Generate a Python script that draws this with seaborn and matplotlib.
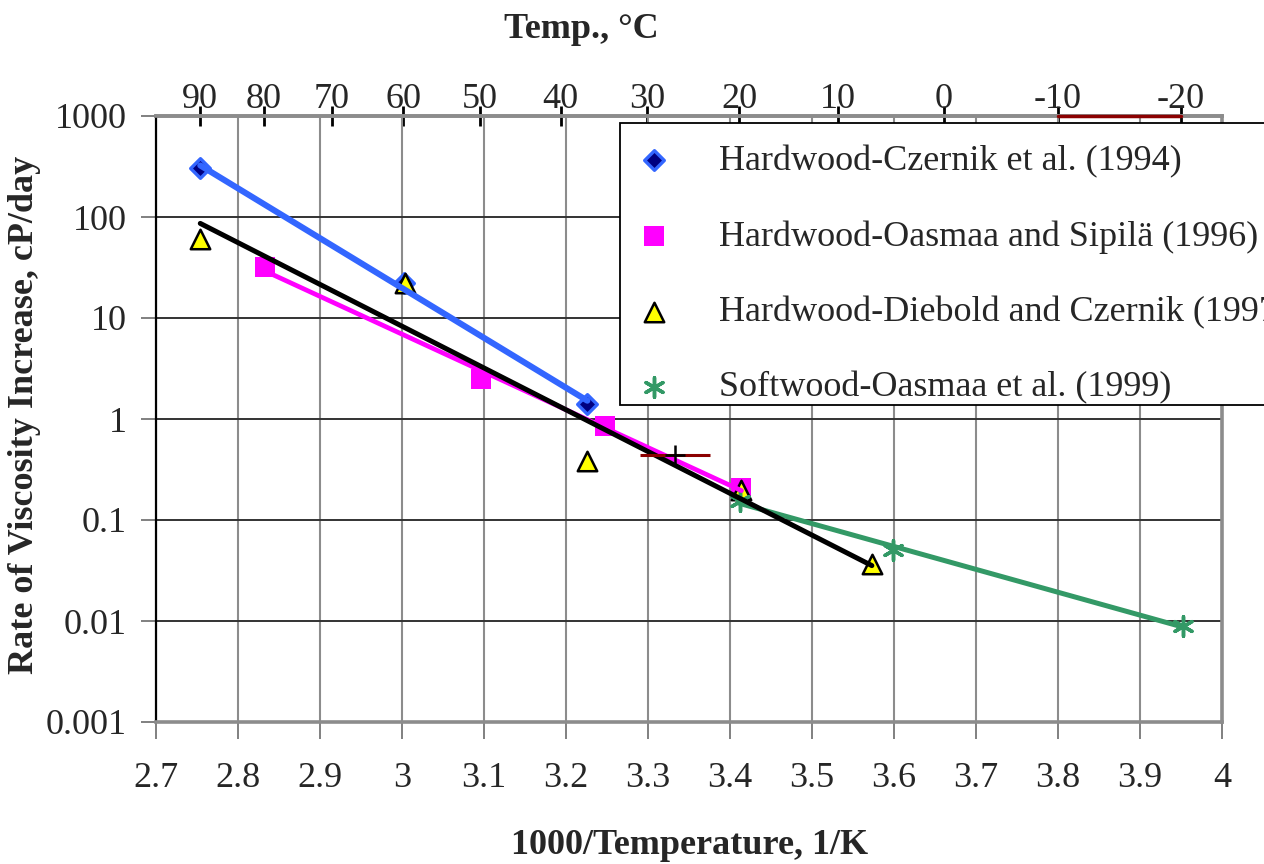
import numpy as np
import pandas as pd
import matplotlib
matplotlib.use("Agg")
import matplotlib.pyplot as plt
from matplotlib.ticker import NullLocator, FixedLocator
from matplotlib.patches import Rectangle
import seaborn as sns

# ---------------- data ----------------
czernik_x = [2.754, 3.002, 3.226]
czernik_y = [305, 22, 1.42]
oasmaa96_x = [2.833, 3.096, 3.248, 3.414]
oasmaa96_y = [32, 2.5, 0.85, 0.207]
diebold_x = [2.754, 3.004, 3.226, 3.414, 3.573]
diebold_y = [60, 22.4, 0.38, 0.20, 0.037]
oasmaa99_x = [3.412, 3.599, 3.953]
oasmaa99_y = [0.153, 0.051, 0.0089]
extra_x = [3.333]
extra_y = [0.44]
extra_xerr = [0.043]
top_bar_x = [3.80, 3.95]
top_bar_y = [1000, 1000]

series_labels = [
    "Hardwood-Czernik et al. (1994)",
    "Hardwood-Oasmaa and Sipilä (1996)",
    "Hardwood-Diebold and Czernik (1997)",
    "Softwood-Oasmaa et al. (1999)",
]
temp_ticks = [90, 80, 70, 60, 50, 40, 30, 20, 10, 0, -10, -20]
temp_tick_labels = [str(t) for t in temp_ticks]
x_ticks = [2.7, 2.8, 2.9, 3.0, 3.1, 3.2, 3.3, 3.4, 3.5, 3.6, 3.7, 3.8, 3.9, 4.0]
x_tick_labels = ["2.7", "2.8", "2.9", "3", "3.1", "3.2", "3.3", "3.4", "3.5",
                 "3.6", "3.7", "3.8", "3.9", "4"]
y_ticks = [0.001, 0.01, 0.1, 1, 10, 100, 1000]
y_tick_labels = ["0.001", "0.01", "0.1", "1", "10", "100", "1000"]

# ---------------- style ----------------
sns.set_style("white")
plt.rcParams["font.family"] = ["Liberation Serif", "DejaVu Serif"]
FS = 26

W, H = 1264, 864
fig = plt.figure(figsize=(W / 100, H / 100), dpi=100)
ax = fig.add_axes([156 / W, 1 - 722 / H, 1066 / W, 606 / H])
ax.set_yscale("log")


def fit_frame(xs, ys):
    k, b = np.polyfit(xs, np.log10(ys), 1)
    xx = np.array([min(xs), max(xs)])
    return pd.DataFrame({"x": xx, "y": 10 ** (k * xx + b)})


# markers
sns.scatterplot(x=czernik_x, y=czernik_y, marker="D", s=10 ** 2, color="#000080",
                edgecolor="#3366ff", linewidth=2.4, ax=ax, zorder=3, label=series_labels[0])
sns.scatterplot(x=oasmaa96_x, y=oasmaa96_y, marker="s", s=15 ** 2, color="#ff00ff",
                edgecolor="#ff00ff", linewidth=0, ax=ax, zorder=3, label=series_labels[1])
sns.scatterplot(x=diebold_x, y=diebold_y, marker="^", s=14 ** 2, color="#ffff00",
                edgecolor="black", linewidth=1.8, ax=ax, zorder=3, label=series_labels[2])
sns.scatterplot(x=oasmaa99_x, y=oasmaa99_y, marker=(6, 2, 0), s=14 ** 2, color="#339966",
                edgecolor="#339966", linewidth=2.5, ax=ax, zorder=3, label=series_labels[3])

# trend lines
sns.lineplot(data=fit_frame(czernik_x, czernik_y), x="x", y="y", color="#3366ff",
             lw=4.4, ax=ax, zorder=4, legend=False)
sns.lineplot(data=fit_frame(oasmaa96_x, oasmaa96_y), x="x", y="y", color="#ff00ff",
             lw=3.4, ax=ax, zorder=4, legend=False)
sns.lineplot(data=fit_frame(diebold_x, diebold_y), x="x", y="y", color="black",
             lw=3.6, ax=ax, zorder=5, legend=False)
sns.lineplot(data=fit_frame(oasmaa99_x, oasmaa99_y), x="x", y="y", color="#339966",
             lw=3.6, ax=ax, zorder=4, legend=False)

# extra point with horizontal bar
ax.errorbar(extra_x, extra_y, xerr=extra_xerr, fmt="none", ecolor="#8b0000",
            elinewidth=2.2, capsize=0, zorder=6)
ax.plot(extra_x, extra_y, marker="+", ms=14, mew=1.8, color="black", ls="none", zorder=7)
ax.plot(top_bar_x, top_bar_y, color="#8b0000", lw=2.5, zorder=8, clip_on=False)

# axes
ax.set_xlim(2.7, 4.0)
ax.set_ylim(0.001, 1000)
ax.xaxis.set_major_locator(FixedLocator(x_ticks))
ax.set_xticklabels(x_tick_labels)
ax.yaxis.set_major_locator(FixedLocator(y_ticks))
ax.yaxis.set_minor_locator(NullLocator())
ax.set_yticklabels(y_tick_labels)
ax.tick_params(axis="x", direction="out", length=12, width=1.4, color="#808080",
               labelsize=FS, pad=17, bottom=True)
ax.tick_params(axis="y", direction="out", length=11, width=1.4, color="#808080",
               labelsize=FS, pad=10, left=True)
ax.xaxis.grid(True, color="#8c8c8c", lw=1.5)
ax.yaxis.grid(True, color="#333333", lw=1.4)
ax.set_axisbelow(True)
ax.set_xlabel("")
ax.set_ylabel("")
for side in ["top", "bottom", "right"]:
    ax.spines[side].set_color("#8c8c8c")
    ax.spines[side].set_linewidth(2.6)
ax.spines["left"].set_color("black")
ax.spines["left"].set_linewidth(1.6)


def fwd(x):
    with np.errstate(divide="ignore", invalid="ignore"):
        return 1000.0 / np.asarray(x, dtype=float) - 273.15


def inv(t):
    with np.errstate(divide="ignore", invalid="ignore"):
        return 1000.0 / (np.asarray(t, dtype=float) + 273.15)


sec = ax.secondary_xaxis("top", functions=(fwd, inv))
sec.set_xticks(temp_ticks)
sec.set_xticklabels(temp_tick_labels)
sec.xaxis.set_minor_locator(NullLocator())
sec.tick_params(axis="x", direction="inout", length=14, width=2, color="black",
                labelsize=FS, pad=-7)
sec.spines["top"].set_color("#8c8c8c")
sec.spines["top"].set_linewidth(2.6)

# legend box (frame drawn separately, legend itself frameless)
box = Rectangle((620 / W, 1 - 405 / H), (W + 20 - 620) / W, (405 - 123) / H,
                transform=fig.transFigure, facecolor="white", edgecolor="black",
                linewidth=1.3, clip_on=False, zorder=9)
ax.add_patch(box)
handles, labels = ax.get_legend_handles_labels()
leg = ax.legend(handles, labels, loc="upper left", bbox_to_anchor=(620 / W, 1 - 123 / H),
                bbox_transform=fig.transFigure, fontsize=FS, frameon=False,
                borderpad=0.6, labelspacing=1.17, handlelength=0.7, handletextpad=1.45,
                borderaxespad=0, scatterpoints=1)
leg.set_zorder(10)

# texts
fig.text(581 / W, 1 - 30 / H, "Temp., °C", fontsize=FS, fontweight="bold",
         ha="center", va="center")
fig.text(690 / W, 1 - 846 / H, "1000/Temperature, 1/K", fontsize=FS, fontweight="bold",
         ha="center", va="center")
fig.text(25 / W, 1 - 415 / H, "Rate of Viscosity Increase, cP/day", fontsize=FS,
         fontweight="bold", ha="center", va="center", rotation=90)

fig.savefig("out.png", dpi=100)
